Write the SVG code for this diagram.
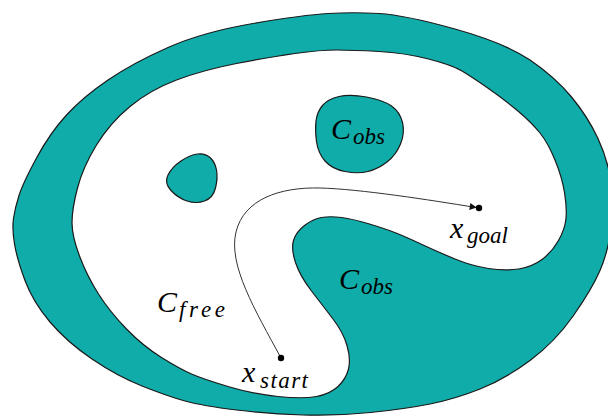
<svg xmlns="http://www.w3.org/2000/svg" width="608" height="418" viewBox="0 0 608 418">
<defs>
<style>
.obs{fill:#10ACA9;stroke:#1a1a1a;stroke-width:1.2;stroke-linejoin:round}
.free{fill:#ffffff;stroke:#1a1a1a;stroke-width:1.2;stroke-linejoin:round}
text{font-family:'Liberation Serif','Times New Roman',serif;font-style:italic;fill:#000}
.m{font-size:30px}
.s{font-size:23px}
.path{fill:none;stroke:#333;stroke-width:1}
.pt{fill:#000}
</style>
<marker id="arr" viewBox="0 0 10 10" refX="9" refY="5" markerWidth="9" markerHeight="7" markerUnits="userSpaceOnUse" orient="auto">
<path d="M0,0 L10,5 L0,10 Z" fill="#111"/>
</marker>
</defs>
<rect width="608" height="418" fill="#ffffff"/>
<g id="workspace-boundary">
<path class="obs" d="M14.5,244 Q12,229 13.5,218.5 Q15,208 19,195.5 Q23,183 36.5,158 Q50,133 66.5,115 Q83,97 108,80 Q133,63 168,47.5 Q203,32 253,23.5 Q303,15 328,13.5 Q353,12 379,13.5 Q405,15 455,29 Q505,43 530,60 Q555,77 571.5,97 Q588,117 598,138.5 Q608,160 611,182.5 Q614,205 611,228.5 Q608,252 600,270.5 Q592,289 573.5,315.5 Q555,342 530,360.5 Q505,379 480,389 Q455,399 430,404 Q405,409 370.5,412.5 Q336,416 303,415 Q270,414 236.5,410 Q203,406 185,401 Q167,396 142,386 Q117,376 92,359 Q67,342 50,322 Q33,302 25,280.5 Q17,259 14.5,244 Z"/>
</g>
<g id="free-space">
<path class="free" d="M77.5,188 Q72,209 72,222.5 Q72,236 79.5,256 Q87,276 98.5,294 Q110,312 126.5,329 Q143,346 161.5,357.5 Q180,369 191.5,374 Q203,379 228,386.5 Q253,394 278,396.5 Q303,399 316.5,396.5 Q330,394 338,386.5 Q346,379 348.5,369 Q351,359 347,345.5 Q343,332 333,319 Q323,306 311.5,291 Q300,276 295.5,262.5 Q291,249 293.5,240.5 Q296,232 304.5,225.5 Q313,219 321.5,217.5 Q330,216 341.5,217.5 Q353,219 369.5,224 Q386,229 396,233 Q406,237 422,244.5 Q438,252 455,259 Q472,266 488.5,268.5 Q505,271 518.5,269 Q532,267 542,259.5 Q552,252 558.5,240.5 Q565,229 566,218.5 Q567,208 564.5,192.5 Q562,177 555,160 Q548,143 540,133 Q532,123 518.5,111.5 Q505,100 488.5,88.5 Q472,77 462,71 Q452,65 428.5,59 Q405,53 379,51.5 Q353,50 336.5,50 Q320,50 295,53.5 Q270,57 236.5,63.5 Q203,70 176.5,80 Q150,90 130,106.5 Q110,123 96.5,145 Q83,167 77.5,188 Z"/>
</g>
<g id="obstacle-small">
<path class="obs" d="M171,190.5 Q164,183 168,175 Q172,167 181,161 Q190,155 197.5,154 Q205,153 210,157.5 Q215,162 216.5,170 Q218,178 215.5,188 Q213,198 204.5,201 Q196,204 187,201 Q178,198 171,190.5 Z"/>
</g>
<g id="obstacle-top">
<path class="obs" d="M316.5,141.5 Q315,130 316,121 Q317,112 322.5,105.5 Q328,99 339,96.5 Q350,94 366.5,97 Q383,100 391.5,106 Q400,112 402.5,122.5 Q405,133 400.5,144 Q396,155 387,162 Q378,169 368,171.5 Q358,174 345,171.5 Q332,169 325,161 Q318,153 316.5,141.5 Z"/>
<text class="m" x="331" y="139">C</text><text class="s" x="353" y="144" textLength="32" lengthAdjust="spacing">obs</text>
</g>
<g id="obstacle-main-label">
<text class="m" x="339" y="289">C</text><text class="s" x="361" y="294" textLength="32" lengthAdjust="spacing">obs</text>
</g>
<g id="free-label">
<text class="m" x="157" y="312">C</text><text class="s" x="179" y="317" textLength="46" lengthAdjust="spacing">free</text>
</g>
<g id="connectors">
<path class="path" d="M281,358 C255,310 228,265 236,232 C244,199 280,187 320,188 C360,189 430,200 476,207.5" marker-end="url(#arr)"/>
</g>
<g id="start">
<circle class="pt" cx="281" cy="358" r="3.2"/>
<text class="m" x="242" y="382">x</text><text class="s" x="260" y="388" textLength="48" lengthAdjust="spacing">start</text>
</g>
<g id="goal">
<circle class="pt" cx="479" cy="208" r="3.2"/>
<text class="m" x="450" y="238">x</text><text class="s" x="467" y="243" textLength="41" lengthAdjust="spacing">goal</text>
</g>
</svg>
